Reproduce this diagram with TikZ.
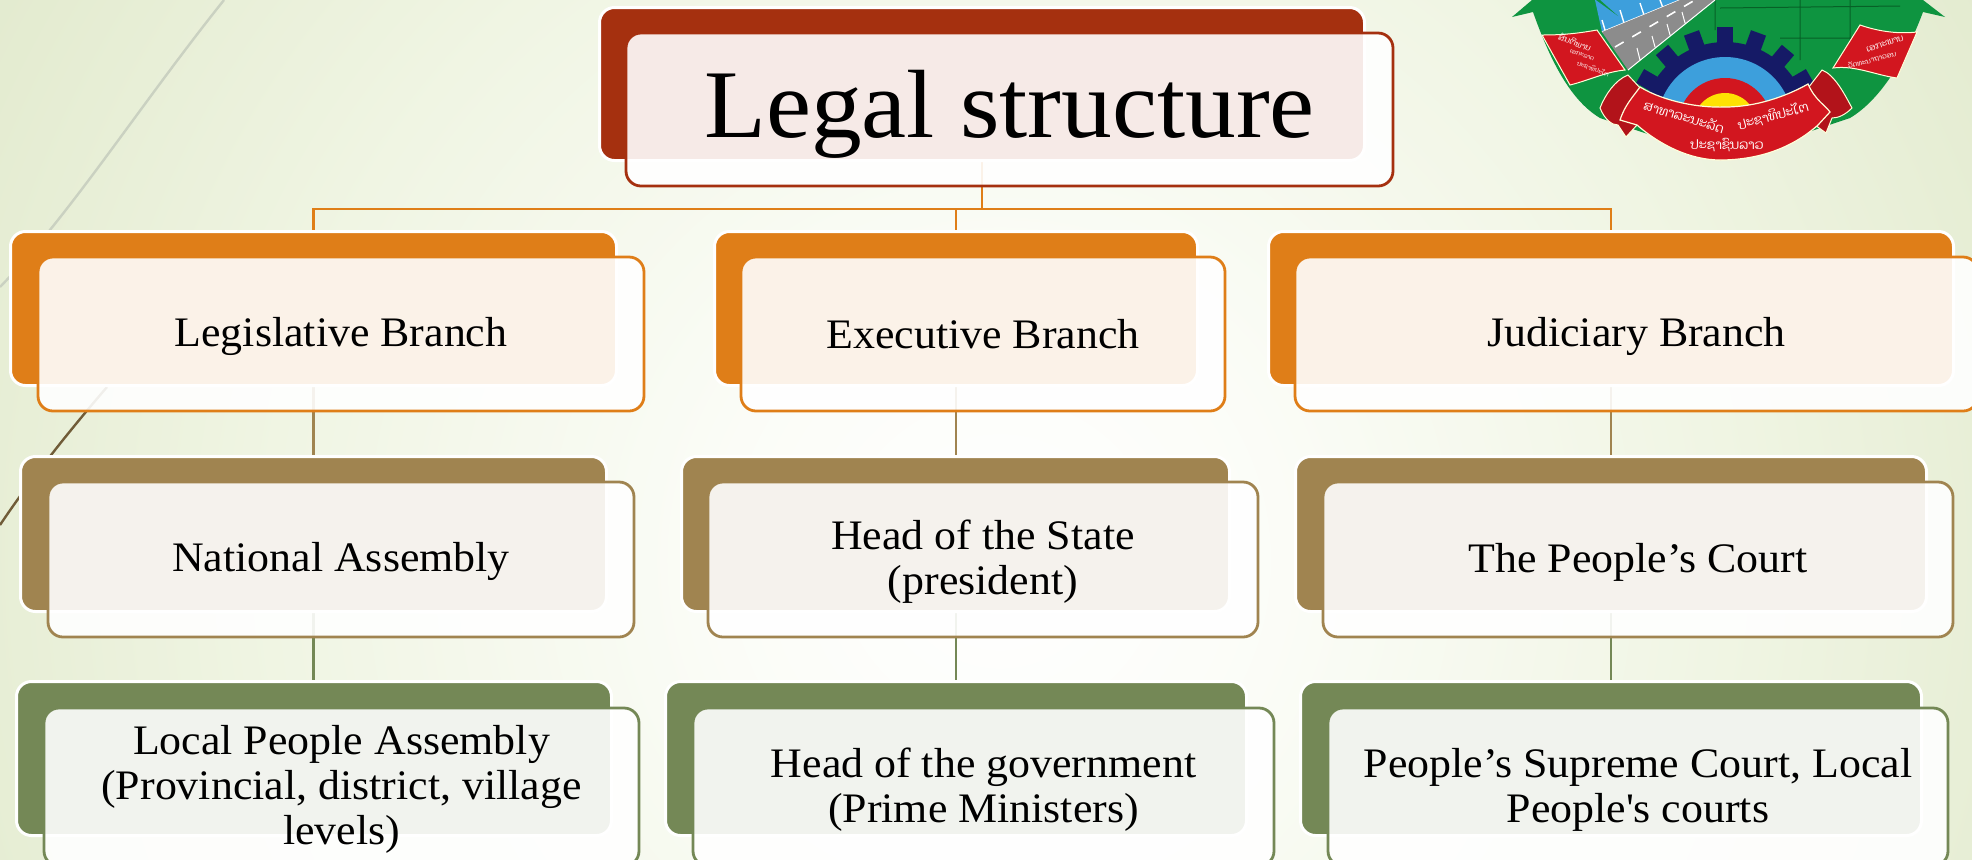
\documentclass[tikz,border=0pt]{standalone}
\usepackage{fontspec}
\setmainfont[FakeStretch=1.045]{Liberation Serif}
\newfontfamily\laofont[Script=Lao]{Dhyana}
\pgfdeclarelayer{bglayer}
\pgfdeclarelayer{connlayer}
\pgfsetlayers{bglayer,connlayer,main}
\pgfdeclareradialshading{bgrad}{\pgfpoint{0bp}{0bp}}{rgb(0bp)=(1,1,1); rgb(6bp)=(0.985,0.99,0.97); rgb(16bp)=(0.94,0.96,0.89); rgb(24bp)=(0.895,0.925,0.82); rgb(25bp)=(0.89,0.92,0.815); rgb(50bp)=(0.89,0.92,0.815)}
\definecolor{cred}{HTML}{A5300F}
\definecolor{corange}{HTML}{DF7E18}
\definecolor{cbrown}{HTML}{A08450}
\definecolor{cgreen}{HTML}{748856}
\definecolor{emgreen}{HTML}{0E9440}
\definecolor{emdark}{HTML}{0A8A38}
\definecolor{emred}{HTML}{D2161F}
\definecolor{emnavy}{HTML}{151A66}
\definecolor{emblue}{HTML}{3D9FDC}
\newlength\bw \newlength\bh
\newcommand\tbox[7]{%
  \pgfmathsetlength\bw{(#5-#3)*0.5pt}%
  \pgfmathsetlength\bh{(#6-#4)*0.5pt}%
  \node[#2,minimum width=\bw,minimum height=\bh] (#1) at ({(#3+#5)/2},{(#4+#6)/2}) {#7};}
\newcommand\bbox[6]{%
  \pgfmathsetlength\bw{(#5-#3+3)*0.5pt}%
  \pgfmathsetlength\bh{(#6-#4+3)*0.5pt}%
  \node[backbox=#2,minimum width=\bw,minimum height=\bh] (#1) at ({(#3+#5)/2},{(#4+#6)/2}) {};}
\newcommand\ls{\rule{0pt}{17pt}\rule[-3pt]{0pt}{3pt}}
\tikzset{
  x=0.5pt,y=-0.5pt,
  basebox/.style={rectangle,rounded corners=7.5pt,inner sep=0pt,outer sep=0pt},
  backbox/.style={basebox,fill=#1,draw=white,line width=1.5pt},
  frontbox/.style={basebox,draw=#1,line width=1.4pt,fill=white,fill opacity=0.9,text opacity=1,
    font=\fontsize{21}{22.5}\selectfont,align=center,text=black},
  conn/.style={draw=#1,line width=1.3pt},
  lao/.style={text=white,font=\laofont\fontsize{#1}{#1}\selectfont,inner sep=0pt,fill opacity=1},
}
\begin{document}
\begin{tikzpicture}
\useasboundingbox (0,0) rectangle (1972,859);
\begin{pgfonlayer}{bglayer}
  \clip (0,0) rectangle (1972,859);
  \shade[shading=bgrad] (-150,-590) rectangle (2150,1710);
  \draw[color=black!10!cgreen!35!white,line width=1.2pt] (224,0) .. controls (140,105) and (70,215) .. (0,287);
  \draw[color=black!30!cbrown,line width=1.2pt] (107,387) .. controls (70,430) and (30,480) .. (0,525);
  % emblem
  \fill[emgreen] (1512,17) -- (1532,0) -- (1923,0) -- (1945,17) -- (1923,12) .. controls (1905,60) and (1880,100) .. (1850,118)
     -- (1725,160) -- (1600,118) .. controls (1570,100) and (1550,60) .. (1533,12) -- cycle;
  \draw[emdark!70!black,line width=.5pt] (1715,0) -- (1715,30) (1800,0) -- (1800,60) (1850,0) -- (1850,70) (1720,8) -- (1900,6) (1780,38) -- (1890,38);
  % wall and road
  \fill[emblue] (1595,0) -- (1602,32) -- (1680,0) -- cycle;
  \fill[emgreen] (1596,0) -- (1618,16) -- (1600,0) -- cycle;
  \draw[white,line width=.7pt] (1602,32) -- (1680,0) (1602,20) -- (1605,30) (1620,10) -- (1624,23) (1640,3) -- (1644,15) (1660,0) -- (1663,8);
  \fill[black!45] (1602,32) -- (1680,0) -- (1715,0) -- (1628,70) -- cycle;
  \draw[white,line width=.8pt,dash pattern=on 5pt off 5pt] (1615,47) -- (1695,0);
  \draw[white,line width=.5pt] (1628,70) -- (1715,0) (1640,60) -- (1637,48) (1655,47) -- (1652,36) (1670,35) -- (1667,24) (1685,23) -- (1682,12);
  % gear
  \begin{scope}
    \clip (1600,0) rectangle (1850,125);
    \foreach \a in {-60,-40,...,60}{
      \fill[emnavy,rotate around={\a:(1725,125)}] (1717,27) rectangle (1733,60);
    }
    \fill[emnavy] (1725,125) circle[radius=83];
    \fill[emblue] (1725,125) circle[radius=68];
    \foreach \a in {12,20,...,172}{
      \draw[white,line width=.45pt] (1725,125) ++(\a:66) -- ++(\a:-17);
    }
    \fill[emred] (1725,125) circle[radius=47];
    \fill[yellow!85!orange] (1725,125) circle[radius=32];
  \end{scope}
  % side ribbons
  \fill[emred,draw=white!85!yellow,line width=.5pt] (1542,35) .. controls (1565,35) and (1580,33) .. (1597,30) -- (1625,70)
     .. controls (1605,72) and (1590,80) .. (1570,85) -- cycle;
  \fill[emred,draw=white!85!yellow,line width=.5pt] (1860,25) .. controls (1880,32) and (1900,34) .. (1917,32) -- (1897,78)
     .. controls (1875,75) and (1855,65) .. (1833,68) -- cycle;
  % banner folds
  \fill[emred!85!black,draw=white!85!yellow,line width=.5pt] (1628,75) .. controls (1615,80) and (1605,95) .. (1600,108)
     .. controls (1605,120) and (1612,125) .. (1618,125) -- (1626,137) -- (1637,125) -- (1642,90) -- cycle;
  \fill[emred!85!black,draw=white!85!yellow,line width=.5pt] (1822,70) .. controls (1835,75) and (1845,95) .. (1852,108)
     .. controls (1845,115) and (1838,118) .. (1832,118) -- (1826,133) -- (1815,125) -- (1808,88) -- cycle;
  % banner
  \fill[emred,draw=white!85!yellow,line width=.6pt] (1640,87) .. controls (1665,102) and (1700,108) .. (1725,107)
     .. controls (1755,107) and (1785,97) .. (1808,84) .. controls (1815,100) and (1825,105) .. (1830,112) -- (1818,125)
     .. controls (1790,150) and (1755,160) .. (1720,160) .. controls (1690,160) and (1660,145) .. (1637,125) -- (1620,120)
     .. controls (1625,105) and (1632,98) .. (1640,87) -- cycle;
  \node[lao=6.5,rotate=-17] (em1) at (1684,116) {ສາທາລະນະລັດ};
  \node[lao=6.5,rotate=15] (em2) at (1773,116) {ປະຊາທິປະໄຕ};
  \node[lao=6.5] (em3) at (1727,145) {ປະຊາຊົນລາວ};
  \node[lao=4.2,rotate=-22] (em4) at (1575,42) {ສັນຕິພາບ};
  \node[lao=3,rotate=-20] (em5) at (1582,55) {ເອກະລາດ};
  \node[lao=3,rotate=-20] (em6) at (1593,69) {ປະຊາທິປະໄຕ};
  \node[lao=4.5,rotate=18] (em7) at (1885,44) {ເອກະພາບ};
  \node[lao=3.5,rotate=15] (em8) at (1872,60) {ວັດທະນາຖາວອນ};
\end{pgfonlayer}

\bbox{titleb}{cred}{601}{9}{1363}{159}
\tbox{titlef}{frontbox=cred,font=\fontsize{48.5}{50}\selectfont}{626}{33}{1393}{186}{\rule{0pt}{38.5pt}\rule[-4.5pt]{0pt}{4.5pt}Legal structure}

\bbox{Lab}{corange}{12}{233}{615}{384}
\bbox{Eab}{corange}{716}{233}{1196}{384}
\bbox{Jab}{corange}{1270}{233}{1952}{384}
\tbox{Laf}{frontbox=corange}{38}{257}{644}{411}{\ls Legislative Branch}
\tbox{Eaf}{frontbox=corange}{741}{257}{1225}{411}{\ls Executive Branch}
\tbox{Jaf}{frontbox=corange}{1295}{257}{1978}{411}{\ls Judiciary Branch}

\bbox{Lbb}{cbrown}{22}{458}{605}{610}
\bbox{Ebb}{cbrown}{683}{458}{1228}{610}
\bbox{Jbb}{cbrown}{1297}{458}{1925}{610}
\tbox{Lbf}{frontbox=cbrown}{48}{482}{634}{637}{\ls National Assembly}
\tbox{Ebf}{frontbox=cbrown}{708}{482}{1258}{637}{\ls Head of the State\\\ls (president)}
\tbox{Jbf}{frontbox=cbrown}{1323}{482}{1953}{637}{\ls The People’s Court}

\bbox{Lcb}{cgreen}{18}{683}{610}{834}
\bbox{Ecb}{cgreen}{667}{683}{1245}{834}
\bbox{Jcb}{cgreen}{1302}{683}{1920}{834}
\tbox{Lcf}{frontbox=cgreen}{44}{708}{639}{866}{\ls Local People Assembly\\\ls (Provincial, district, village\\\ls levels)}
\tbox{Ecf}{frontbox=cgreen}{693}{708}{1274}{866}{\ls Head of the government\\\ls (Prime Ministers)}
\tbox{Jcf}{frontbox=cgreen}{1328}{708}{1948}{866}{\ls People’s Supreme Court, Local\\\ls People\textquotesingle s courts}

\begin{pgfonlayer}{connlayer}
  \coordinate (bus) at (982,209);
  \draw[conn=corange] (titleb.south) -- (bus) -| (Lab.north);
  \draw[conn=corange] (bus) -| (Eab.north);
  \draw[conn=corange] (bus) -| (Jab.north);
  \draw[conn=cbrown] (Lab.south) -- (Lbb.north -| Lab.south);
  \draw[conn=cbrown] (Eab.south) -- (Ebb.north -| Eab.south);
  \draw[conn=cbrown] (Jab.south) -- (Jbb.north -| Jab.south);
  \draw[conn=cgreen] (Lbb.south -| Lab.south) -- (Lcb.north -| Lab.south);
  \draw[conn=cgreen] (Ebb.south -| Eab.south) -- (Ecb.north -| Eab.south);
  \draw[conn=cgreen] (Jbb.south -| Jab.south) -- (Jcb.north -| Jab.south);
\end{pgfonlayer}
\end{tikzpicture}
\end{document}
